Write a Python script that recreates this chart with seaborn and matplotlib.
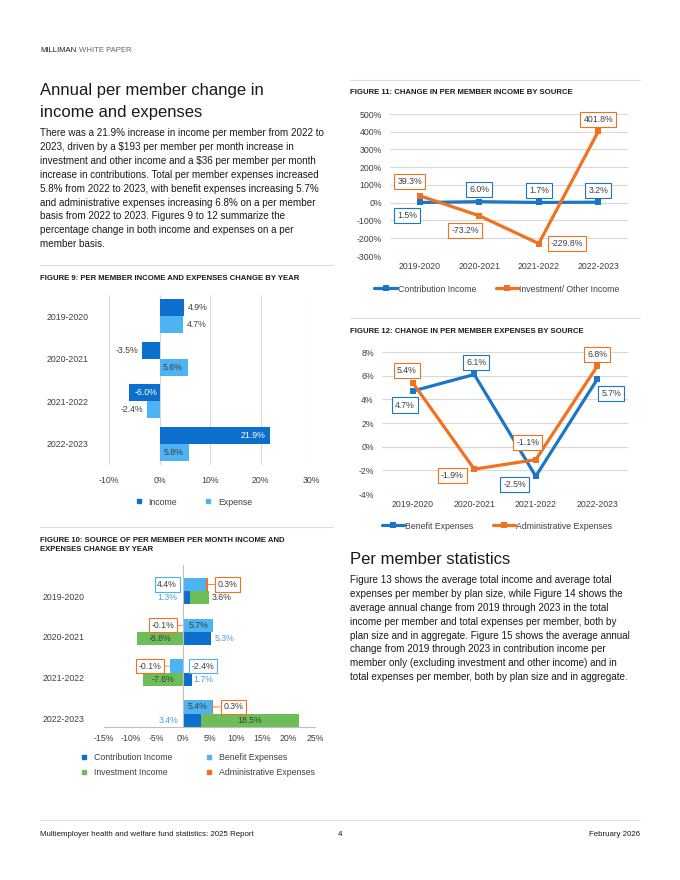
import pandas as pd
import seaborn as sns
import matplotlib.pyplot as plt
from matplotlib.lines import Line2D
from matplotlib.transforms import ScaledTranslation

# =========================================================
# DATA
# =========================================================

years = ["2019-2020", "2020-2021", "2021-2022", "2022-2023"]

# figure 9: per member income and expenses change
income_change = [4.9, -3.5, -6.0, 21.9]
expense_change = [4.7, 5.6, -2.4, 5.8]

# figure 10: source of per member per month change
contribution_part = [1.3, 5.3, 1.7, 3.4]
investment_part = [3.6, -8.8, -7.6, 18.5]
benefit_part = [4.4, 5.7, -2.4, 5.4]
admin_part = [0.3, -0.1, -0.1, 0.3]

# figure 11: change in per member income by source
contribution_income = [1.5, 6.0, 1.7, 3.2]
investment_income = [39.3, -73.2, -229.8, 401.8]

# figure 12: change in per member expenses by source
benefit_expenses = [4.7, 6.1, -2.5, 5.7]
admin_expenses = [5.4, -1.9, -1.1, 6.8]

fig9_ticks = [-10, 0, 10, 20, 30]
fig10_ticks = [-15, -10, -5, 0, 5, 10, 15, 20, 25]
fig11_ticks = [-300, -200, -100, 0, 100, 200, 300, 400, 500]
fig12_ticks = [-4, -2, 0, 2, 4, 6, 8]

# =========================================================
# STYLE
# =========================================================

DARK_BLUE = "#0B6FCB"
LIGHT_BLUE = "#4DB3F2"
GREEN = "#6DBE58"
ORANGE = "#F0711F"
LINE_BLUE = "#1B76C6"
TEXT = "#1A1A1A"
LABEL = "#404040"
GRID = "#D9D9D9"
AXIS = "#BFBFBF"

sns.set_style("white")
plt.rcParams["font.family"] = ["Liberation Sans", "DejaVu Sans"]

W, H = 680, 880
fig = plt.figure(figsize=(W / 100, H / 100), dpi=100)


def px_axes(x0, y0, x1, y1):
    return fig.add_axes([x0 / W, 1 - y1 / H, (x1 - x0) / W, (y1 - y0) / H])


def ftext(x, y, s, **kw):
    kw.setdefault("color", TEXT)
    kw.setdefault("va", "center")
    fig.text(x / W, 1 - y / H, s, **kw)


def hline(x0, x1, y, color="#DDDDDD"):
    fig.add_artist(Line2D([x0 / W, x1 / W], [1 - y / H, 1 - y / H],
                          color=color, lw=0.8))


def pct(v):
    return f"{v:.1f}%"


# =========================================================
# PAGE TEXT
# =========================================================

ftext(40, 50, "MILLIMAN", fontsize=5.6)
ftext(79, 50, "WHITE PAPER", fontsize=5.6, color="#666666")

ftext(40, 90, "Annual per member change in", fontsize=12)
ftext(40, 112, "income and expenses", fontsize=12)

left_para = [
    "There was a 21.9% increase in income per member from 2022 to",
    "2023, driven by a \\$193 per member per month increase in",
    "investment and other income and a \\$36 per member per month",
    "increase in contributions. Total per member expenses increased",
    "5.8% from 2022 to 2023, with benefit expenses increasing 5.7%",
    "and administrative expenses increasing 6.8% on a per member",
    "basis from 2022 to 2023. Figures 9 to 12 summarize the",
    "percentage change in both income and expenses on a per",
    "member basis.",
]
for i, line in enumerate(left_para):
    ftext(40, 133 + i * 13.9, line, fontsize=7.15)

ftext(350, 559, "Per member statistics", fontsize=12)

right_para = [
    "Figure 13 shows the average total income and average total",
    "expenses per member by plan size, while Figure 14 shows the",
    "average annual change from 2019 through 2023 in the total",
    "income per member and total expenses per member, both by",
    "plan size and in aggregate. Figure 15 shows the average annual",
    "change from 2019 through 2023 in contribution income per",
    "member only (excluding investment and other income) and in",
    "total expenses per member, both by plan size and in aggregate.",
]
for i, line in enumerate(right_para):
    ftext(350, 580 + i * 13.9, line, fontsize=7.15)

hline(350, 640, 80)
hline(40, 333, 265)
hline(40, 333, 527)
hline(350, 640, 318)
hline(40, 640, 820)

TITLE_FS = 5.55
ftext(40, 278, "FIGURE 9: PER MEMBER INCOME AND EXPENSES CHANGE BY YEAR",
      fontsize=TITLE_FS, fontweight="bold")
ftext(40, 540, "FIGURE 10: SOURCE OF PER MEMBER PER MONTH INCOME AND",
      fontsize=TITLE_FS, fontweight="bold")
ftext(40, 549.5, "EXPENSES CHANGE BY YEAR", fontsize=TITLE_FS, fontweight="bold")
ftext(350, 93, "FIGURE 11: CHANGE IN PER MEMBER INCOME BY SOURCE",
      fontsize=TITLE_FS, fontweight="bold")
ftext(350, 331, "FIGURE 12: CHANGE IN PER MEMBER EXPENSES BY SOURCE",
      fontsize=TITLE_FS, fontweight="bold")

ftext(40, 834, "Multiemployer health and welfare fund statistics: 2025 Report",
      fontsize=5.7)
ftext(340, 834, "4", fontsize=5.7, ha="center")
ftext(640, 834, "February 2026", fontsize=5.7, ha="right")

# =========================================================
# FIGURE 9
# =========================================================

ax9 = px_axes(109, 295, 311, 465)

df9 = pd.DataFrame({
    "year": years * 2,
    "value": income_change + expense_change,
    "kind": ["Income"] * 4 + ["Expense"] * 4,
})

sns.barplot(
    data=df9, y="year", x="value", hue="kind",
    hue_order=["Income", "Expense"],
    palette=[DARK_BLUE, LIGHT_BLUE],
    orient="h", width=0.8, saturation=1, linewidth=0,
    legend=False, ax=ax9
)

ax9.set_xlim(-10, 30)
ax9.set_ylim(3.5, -0.5)
ax9.set_xticks(fig9_ticks)
ax9.set_xticklabels([f"{t}%" for t in fig9_ticks])
ax9.xaxis.grid(True, color=GRID, lw=0.8)
ax9.set_axisbelow(True)
ax9.set_xlabel("")
ax9.set_ylabel("")
sns.despine(ax=ax9, left=True, bottom=True)
ax9.tick_params(axis="x", length=0, pad=8, labelsize=6.3, labelcolor=LABEL)
ax9.tick_params(axis="y", length=0, pad=15, labelsize=6.3, labelcolor=LABEL)

# label mode: out = outside end, in = inside end
income_label_mode = [("out", LABEL), ("out", LABEL), ("in", "white"), ("in", "white")]
expense_label_mode = [("out", LABEL), ("in", LABEL), ("out", LABEL), ("in", LABEL)]

for series, modes, off in [(income_change, income_label_mode, -0.2),
                           (expense_change, expense_label_mode, 0.2)]:
    for i, v in enumerate(series):
        mode, col = modes[i]
        sign = 1 if v >= 0 else -1
        if mode == "out":
            dx, ha = 4 * sign, "left" if sign > 0 else "right"
        else:
            dx, ha = -5 * sign, "right" if sign > 0 else "left"
        ax9.annotate(pct(v), xy=(v, i + off), xytext=(dx, 0),
                     textcoords="offset pixels", ha=ha, va="center",
                     fontsize=6.3, color=col)

handles9 = [Line2D([], [], marker="s", ls="none", color=c, markersize=3.2)
            for c in [DARK_BLUE, LIGHT_BLUE]]
fig.legend(handles9, ["Income", "Expense"], loc="center",
           bbox_to_anchor=(191 / W, 1 - 502 / H), ncol=2, frameon=False,
           fontsize=6.3, handletextpad=0.1, columnspacing=2.6,
           labelcolor=LABEL)

# =========================================================
# FIGURE 10
# =========================================================

ax10 = px_axes(104, 565, 315, 727)


def stack_end(base, val):
    return base + val if base * val > 0 else val


def stack_start(base, val):
    return base if base * val > 0 else 0


admin_end = [stack_end(b, a) for b, a in zip(benefit_part, admin_part)]
invest_end = [stack_end(c, v) for c, v in zip(contribution_part, investment_part)]

df10_outer = pd.DataFrame({
    "year": years * 2,
    "value": admin_end + invest_end,
    "row": ["Expense"] * 4 + ["Income"] * 4,
})
df10_inner = pd.DataFrame({
    "year": years * 2,
    "value": benefit_part + contribution_part,
    "row": ["Expense"] * 4 + ["Income"] * 4,
})

BAR_W = 0.65

sns.barplot(
    data=df10_outer, y="year", x="value", hue="row",
    hue_order=["Expense", "Income"], palette=[ORANGE, GREEN],
    orient="h", width=BAR_W, saturation=1, linewidth=0,
    legend=False, ax=ax10
)
sns.barplot(
    data=df10_inner, y="year", x="value", hue="row",
    hue_order=["Expense", "Income"], palette=[LIGHT_BLUE, DARK_BLUE],
    orient="h", width=BAR_W, saturation=1, linewidth=0,
    legend=False, ax=ax10
)

ax10.set_xlim(-15, 25)
ax10.set_ylim(3.33, -0.64)
ax10.set_xticks(fig10_ticks)
ax10.set_xticklabels([f"{t}%" for t in fig10_ticks])
ax10.axvline(0, color=AXIS, lw=0.8)
ax10.set_xlabel("")
ax10.set_ylabel("")
sns.despine(ax=ax10, left=True)
ax10.spines["bottom"].set_color(AXIS)
ax10.spines["bottom"].set_linewidth(0.8)
ax10.tick_params(axis="x", length=0, pad=5, labelsize=6.3, labelcolor=LABEL)
ax10.tick_params(axis="y", length=0, pad=14, labelsize=6.3, labelcolor=LABEL)
for lab in ax10.get_yticklabels():
    lab.set_transform(lab.get_transform()
                      + ScaledTranslation(0, -5 / 100, fig.dpi_scale_trans))

exp_y = -BAR_W / 4
inc_y = BAR_W / 4

# (anchor, dx px, boxed)
benefit_label_pos = [("zero", -16, True), ("mid", 0, False),
                     ("zero", 20, True), ("mid", 0, False)]
contribution_label_pos = [("zero", -16), ("end", 13), ("end", 11), ("zero", -15)]
investment_label_pos = [("end", 13), ("mid", 0), ("mid", 0), ("mid", 0)]

for i in range(4):
    # benefit
    v = benefit_part[i]
    anchor, dx, boxed = benefit_label_pos[i]
    x = {"zero": 0, "mid": v / 2, "end": v}[anchor]
    box = dict(boxstyle="square,pad=0.3", fc="white", ec=LIGHT_BLUE, lw=0.8) if boxed else None
    ax10.annotate(pct(v), xy=(x, i + exp_y), xytext=(dx, 0),
                  textcoords="offset pixels", ha="center", va="center",
                  fontsize=6.3, color=LABEL, bbox=box)

    # administrative, boxed with leader line
    a = admin_part[i]
    sign = 1 if a >= 0 else -1
    ax10.annotate(pct(a), xy=(admin_end[i], i + exp_y), xytext=(20 * sign, 0),
                  textcoords="offset pixels", ha="center", va="center",
                  fontsize=6.3, color=LABEL,
                  bbox=dict(boxstyle="square,pad=0.3", fc="white", ec=ORANGE, lw=0.8),
                  arrowprops=dict(arrowstyle="-", color=ORANGE, lw=0.6,
                                  shrinkA=0, shrinkB=0))

    # contribution
    c = contribution_part[i]
    anchor, dx = contribution_label_pos[i]
    x = {"zero": 0, "mid": c / 2, "end": c}[anchor]
    ax10.annotate(pct(c), xy=(x, i + inc_y), xytext=(dx, 0),
                  textcoords="offset pixels", ha="center", va="center",
                  fontsize=6.3, color="#4A9FE0")

    # investment
    g = investment_part[i]
    anchor, dx = investment_label_pos[i]
    s0 = stack_start(c, g)
    x = {"zero": 0, "mid": (s0 + invest_end[i]) / 2, "end": invest_end[i]}[anchor]
    ax10.annotate(pct(g), xy=(x, i + inc_y), xytext=(dx, 0),
                  textcoords="offset pixels", ha="center", va="center",
                  fontsize=6.3, color=LABEL)

handles10 = [Line2D([], [], marker="s", ls="none", color=c, markersize=3.2)
             for c in [DARK_BLUE, GREEN, LIGHT_BLUE, ORANGE]]
fig.legend(handles10,
           ["Contribution Income", "Investment Income",
            "Benefit Expenses", "Administrative Expenses"],
           loc="center", bbox_to_anchor=(195 / W, 1 - 765 / H), ncol=2,
           frameon=False, fontsize=6.3, handletextpad=0.1,
           columnspacing=3.2, labelspacing=0.75, labelcolor=LABEL)

# =========================================================
# LINE CHARTS (FIGURES 11 AND 12)
# =========================================================


def line_chart(ax, s1, s2, names, colors, ticks, offsets1, offsets2):
    df = pd.DataFrame({
        "year": years * 2,
        "value": s1 + s2,
        "series": [names[0]] * 4 + [names[1]] * 4,
    })
    sns.lineplot(
        data=df, x="year", y="value", hue="series", hue_order=names,
        palette=colors, marker="s", markersize=5, markeredgewidth=0,
        linewidth=2.3, sort=False, legend=False, ax=ax
    )
    ax.set_xlim(-0.5, 3.5)
    ax.set_ylim(ticks[0], ticks[-1])
    ax.set_yticks(ticks)
    ax.set_yticklabels([f"{t}%" for t in ticks])
    ax.yaxis.grid(True, color=GRID, lw=0.8)
    ax.set_axisbelow(True)
    ax.axhline(0, color=AXIS, lw=0.8, zorder=0.5)
    ax.set_xlabel("")
    ax.set_ylabel("")
    sns.despine(ax=ax, left=True, bottom=True)
    ax.tick_params(axis="x", length=0, pad=4, labelsize=6.3, labelcolor=LABEL)
    ax.tick_params(axis="y", length=0, pad=6, labelsize=6.3, labelcolor=LABEL)

    for series, offs, col in [(s1, offsets1, colors[0]), (s2, offsets2, colors[1])]:
        for i, v in enumerate(series):
            ax.annotate(pct(v), xy=(i, v), xytext=offs[i],
                        textcoords="offset pixels", ha="center", va="center",
                        fontsize=6.3, color=LABEL,
                        bbox=dict(boxstyle="square,pad=0.35", fc="white",
                                  ec=col, lw=0.8))


ax11 = px_axes(390, 114, 628, 256)
line_chart(ax11, contribution_income, investment_income,
           ["Contribution Income", "Investment/ Other Income"],
           [LINE_BLUE, ORANGE], fig11_ticks,
           [(-13, -13), (0, 12), (0, 12), (0, 12)],
           [(-10, 14), (-14, -15), (28, 0), (0, 12)])

ax12 = px_axes(382, 352, 628, 494)
line_chart(ax12, benefit_expenses, admin_expenses,
           ["Benefit Expenses", "Administrative Expenses"],
           [LINE_BLUE, ORANGE], fig12_ticks,
           [(-8, -14), (2, 12), (-21, -8), (14, -14)],
           [(-6, 12), (-22, -6), (-8, 17), (0, 12)])

for names, y, x in [(["Contribution Income", "Investment/ Other Income"], 289, 497),
                    (["Benefit Expenses", "Administrative Expenses"], 526, 497)]:
    handles = [Line2D([], [], color=c, lw=2.3, marker="s", markersize=5,
                      markeredgewidth=0) for c in [LINE_BLUE, ORANGE]]
    fig.legend(handles, names, loc="center",
               bbox_to_anchor=(x / W, 1 - y / H), ncol=2, frameon=False,
               fontsize=6.3, handlelength=2.6, handletextpad=0.1,
               columnspacing=2.2, labelcolor=LABEL)

fig.savefig("out.png", dpi=100)
